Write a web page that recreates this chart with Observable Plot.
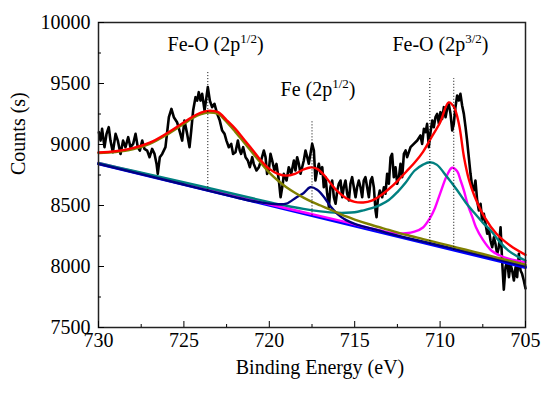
<!DOCTYPE html>
<html><head><meta charset="utf-8">
<script src="https://cdn.jsdelivr.net/npm/d3@7"></script>
<script src="https://cdn.jsdelivr.net/npm/@observablehq/plot@0.6"></script>
<style>
body{margin:0;background:#fff}
#chart svg, #chart svg text, #chart svg tspan { font-family: "Liberation Serif", "DejaVu Serif", serif !important; }
</style>
</head><body><div id="chart"></div>
<script>
// Measured spectrum (binding energy eV, counts)
const dataE = [729.98,729.88,729.79,729.65,729.53,729.40,729.30,729.16,729.00,728.87,728.71,728.56,728.42,728.26,728.13,727.97,727.83,727.70,727.58,727.44,727.31,727.15,727.01,726.86,726.72,726.60,726.53,726.41,726.27,726.08,725.88,725.73,725.59,725.40,725.26,725.10,724.97,724.81,724.67,724.57,724.46,724.32,724.22,724.13,724.03,723.93,723.79,723.68,723.60,723.48,723.35,723.21,723.05,722.90,722.76,722.62,722.51,722.37,722.23,722.12,721.98,721.84,721.73,721.65,721.53,721.39,721.26,721.14,721.00,720.91,720.75,720.61,720.48,720.32,720.22,720.13,720.03,
719.93,719.83,719.70,719.58,719.44,719.34,719.21,719.15,718.99,718.86,718.72,718.56,718.47,718.37,718.27,
718.17,717.98,717.88,717.78,717.69,717.59,717.49,717.39,717.30,717.20,717.10,717.00,716.90,716.81,716.71,716.61,716.51,716.42,716.32,716.22,716.12,716.02,715.93,715.83,715.73,715.64,715.54,715.44,715.34,715.25,715.15,715.05,714.95,714.86,714.76,714.66,714.56,714.47,714.37,714.27,714.17,714.07,713.98,713.88,713.78,713.72,713.65,713.53,713.39,713.29,713.20,713.10,713.00,712.90,712.81,712.71,712.61,712.51,712.41,712.32,712.22,712.12,712.02,711.93,711.73,711.54,711.34,
711.15,711.05,710.95,710.85,710.76,710.66,710.56,710.46,710.37,710.27,710.17,710.07,709.98,709.88,709.78,709.68,709.59,709.49,709.39,709.29,709.20,709.10,709.00,708.90,708.81,708.71,708.61,708.51,708.42,708.32,708.22,708.12,708.03,707.93,707.83,707.73,707.63,707.54,707.44,707.34,707.24,707.15,707.05,706.95,706.85,706.76,706.66,706.56,706.46,706.37,706.27,706.17,706.07,705.97,705.88,705.78,705.68,705.58,705.49,705.39,705.29,705.20,705.10,705.00];
const dataCounts = [9101,9032,9128,8978,9087,9142,9032,8937,9087,9032,8923,9032,8978,9060,8978,9005,9087,8978,8950,9032,8964,8950,8896,8964,8923,8841,8759,8896,8923,8978,9224,9292,9224,9183,9114,9032,9196,9087,8978,9114,9278,9388,9360,9429,9360,9415,9278,9388,9470,9360,9306,9333,9251,9196,9114,9087,9032,8978,9005,8923,8937,9032,8950,8923,8978,8896,8869,8814,8896,8841,8787,8814,8869,8950,8896,8759,8787,
8923,8869,8787,8841,8705,8568,8678,8759,8705,8814,8759,8869,8787,8896,8841,
8760,8869,8951,8896,8842,8923,9005,8951,8705,8787,8842,8760,8814,8650,8732,8596,8486,8650,8705,8568,8514,8623,8678,8705,8568,8650,8705,8596,8541,8678,8732,8650,8568,8650,8705,8650,8568,8705,8732,8650,8568,8705,8732,8650,8459,8404,8541,8623,8568,8650,8596,8760,8678,8896,8923,8732,8814,8678,8732,8842,8732,8923,8951,8896,8978,9005,9033,
9074,9005,9128,9101,9169,8978,9101,9197,9142,9224,9251,9169,9265,9210,9306,9224,9292,9333,9251,9115,9169,9306,9402,9361,9415,9320,9251,9142,9033,8896,8760,8650,8623,8705,8541,8459,8514,8377,8432,8350,8268,8309,8213,8158,8240,8186,8104,8158,8322,8049,7810,7994,8049,7913,8022,7967,7885,7994,7913,8104,7967,7940,7885,7820];

// Fit envelope (red)
const envelopeE = [730,729,728,727,726,725,724.5,724,723.6,723,722.5,722,721.5,721,720.5,720,719.5,719,718.5,718,717.6,717.2,716.8,716.4,716,715.5,715,714.5,714,713.5,713,712.5,712,711.5,711,710.5,710,709.5,709.2,708.9,708.6,708.3,708,707.4,706.7,705.9,705];
const envelopeCounts = [8935,8945,8970,9015,9092,9183,9228,9262,9276,9265,9200,9130,9045,8960,8870,8800,8760,8745,8760,8795,8812,8800,8750,8680,8615,8560,8530,8525,8540,8580,8635,8700,8775,8850,8940,9060,9180,9345,9310,9170,8896,8705,8582,8404,8268,8172,8095];

// Fe-O 2p1/2 component (olive)
const feo12E = [730,729,728,727,726,725,724.5,724,723.6,723,722.5,722,721.5,721,720.5,720,719.5,719,718.5,718,717.5,717,716.5,716,715.5,715,714,713,712,711,710,709,708,707,706,705];
const feo12Counts = [8930,8938,8960,9005,9080,9170,9215,9248,9262,9250,9185,9105,9020,8935,8850,8770,8705,8650,8605,8565,8530,8500,8470,8440,8410,8385,8340,8300,8260,8225,8190,8155,8120,8085,8050,8015];

// Fe 2p1/2 component (navy)
const fe12E = [730,725,722,721,720,719.5,719,718.4,718,717.6,717.2,716.8,716.4,716,715.5,715,714,713,712,710,708,705];
const fe12Counts = [8842,8672,8568,8537,8515,8510,8515,8568,8600,8650,8630,8570,8490,8430,8380,8350,8310,8272,8237,8172,8105,8002];

// Fe-O 2p3/2 component A (teal)
const feo32aE = [730,728,726,724,722,720,719,718,717,716,715.5,715,714.5,714,713.5,713,712.5,712,711.5,711,710.6,710.2,709.6,709,708.5,708,707.5,707,706.5,706,705.5,705];
const feo32aCounts = [8848,8785,8722,8658,8592,8528,8498,8472,8452,8440,8440,8445,8460,8478,8505,8545,8610,8690,8785,8835,8855,8835,8735,8625,8525,8440,8360,8290,8200,8130,8085,8049];

// Fe-O 2p3/2 component B (magenta)
const feo32bE = [730,726,722,720,718,716,714,713.5,713,712.5,712,711.5,711,710.6,710.3,710,709.6,709.3,709,708.8,708.6,708.4,708.1,707.9,707.5,707,706.5,706,705.5,705];
const feo32bCounts = [8850,8714,8578,8510,8445,8380,8310,8295,8280,8272,8272,8285,8320,8395,8480,8598,8746,8809,8780,8705,8620,8516,8400,8322,8220,8131,8090,8065,8048,8035];

// Linear background (blue)
const backgroundE = [730,705];
const backgroundCounts = [8842,7992];

// Peak marker dotted lines
const markerE = [723.6,717.5,710.6,709.2];
const markerLow = [8622,8415,8180,8133];
const markerHigh = [9598,9197,9541,9541];

// Annotations
const labelText = ["Fe-O (2p1/2)","Fe (2p1/2)","Fe-O (2p3/2)"];
const labelE = [725.96,719.34,712.79];
const labelCounts = [9823,9446,9823];

const xTicks = [730,725,720,715,710,705];
const xMinor = [727.5,722.5,717.5,712.5,707.5];
const yTicks = [7500,8000,8500,9000,9500,10000];
const yMinor = [7750,8250,8750,9250,9750];

const rows = (xs, ys) => xs.map((x, i) => ({x, y: ys[i]}));
const font = "Liberation Serif, DejaVu Serif, serif";
const fitW = 2.4;
const fmt = d3.format("d");

const chart = Plot.plot({
  width: 550, height: 397,
  marginLeft: 98, marginRight: 25, marginTop: 22, marginBottom: 70,
  style: {fontFamily: font, fontSize: "19px", color: "#000", background: "#fff"},
  x: {domain: [730, 705]},
  y: {domain: [7500, 10000]},
  marks: [
    Plot.line(rows(dataE, dataCounts), {x: "x", y: "y", stroke: "#000", strokeWidth: 2.6}),
    Plot.line(rows(backgroundE, backgroundCounts), {x: "x", y: "y", stroke: "#0000ff", strokeWidth: 3}),
    Plot.line(rows(feo32bE, feo32bCounts), {x: "x", y: "y", stroke: "#ff00ff", strokeWidth: fitW, curve: "catmull-rom"}),
    Plot.line(rows(feo32aE, feo32aCounts), {x: "x", y: "y", stroke: "#008080", strokeWidth: fitW, curve: "catmull-rom"}),
    Plot.line(rows(fe12E, fe12Counts), {x: "x", y: "y", stroke: "#000080", strokeWidth: fitW, curve: "catmull-rom"}),
    Plot.line(rows(feo12E, feo12Counts), {x: "x", y: "y", stroke: "#808000", strokeWidth: fitW, curve: "catmull-rom"}),
    Plot.line(rows(envelopeE, envelopeCounts), {x: "x", y: "y", stroke: "#ff0000", strokeWidth: fitW, curve: "catmull-rom"}),
    Plot.ruleX(markerE.map((e, i) => ({x: e, y1: markerLow[i], y2: markerHigh[i]})), {x: "x", y1: "y1", y2: "y2", stroke: "#000", strokeWidth: 1, strokeDasharray: "1,2"}),
    Plot.text(labelText.map((t, i) => ({t, x: labelE[i], y: labelCounts[i]})), {x: "x", y: "y", text: "t", textAnchor: "start", fontSize: 20, fontFamily: font, fill: "#000"}),
    Plot.frame({stroke: "#222", strokeWidth: 1.5}),
    Plot.axisX({ticks: xTicks, tickSize: -6, fill: "none", label: null, tickFormat: fmt}),
    Plot.axisX({ticks: xMinor, tickSize: -3, fill: "none", label: null, tickFormat: fmt}),
    Plot.axisX({ticks: xTicks, tickSize: 0, tickPadding: 5, label: null, tickFormat: fmt, fontSize: 20, fontFamily: font}),
    Plot.axisY({ticks: yTicks, tickSize: -6, fill: "none", label: null, tickFormat: fmt}),
    Plot.axisY({ticks: yMinor, tickSize: -3, fill: "none", label: null, tickFormat: fmt}),
    Plot.axisY({ticks: yTicks, tickSize: 0, tickPadding: 8, label: null, tickFormat: fmt, fontSize: 20, fontFamily: font}),
    Plot.text(["Binding Energy (eV)"], {frameAnchor: "bottom", dy: 46, dx: 8, fontSize: 20, fontFamily: font, fill: "#000"}),
    Plot.text(["Counts (s)"], {frameAnchor: "left", dx: -80, rotate: -90, fontSize: 20, fontFamily: font, fill: "#000"})
  ]
});

// superscripts in annotations
chart.querySelectorAll("text").forEach(t => {
  const m = t.textContent.match(/^(.*\(2p)(\d\/\d)(\))$/);
  if (!m) return;
  t.textContent = "";
  const ns = "http://www.w3.org/2000/svg";
  const a = document.createElementNS(ns, "tspan"); a.textContent = m[1];
  const b = document.createElementNS(ns, "tspan"); b.textContent = m[2];
  b.setAttribute("dy", "-8"); b.setAttribute("font-size", "13");
  const c = document.createElementNS(ns, "tspan"); c.textContent = m[3];
  c.setAttribute("dy", "8"); c.setAttribute("font-size", "20");
  t.append(a, b, c);
});

document.getElementById("chart").append(chart);
</script>
</body></html>
